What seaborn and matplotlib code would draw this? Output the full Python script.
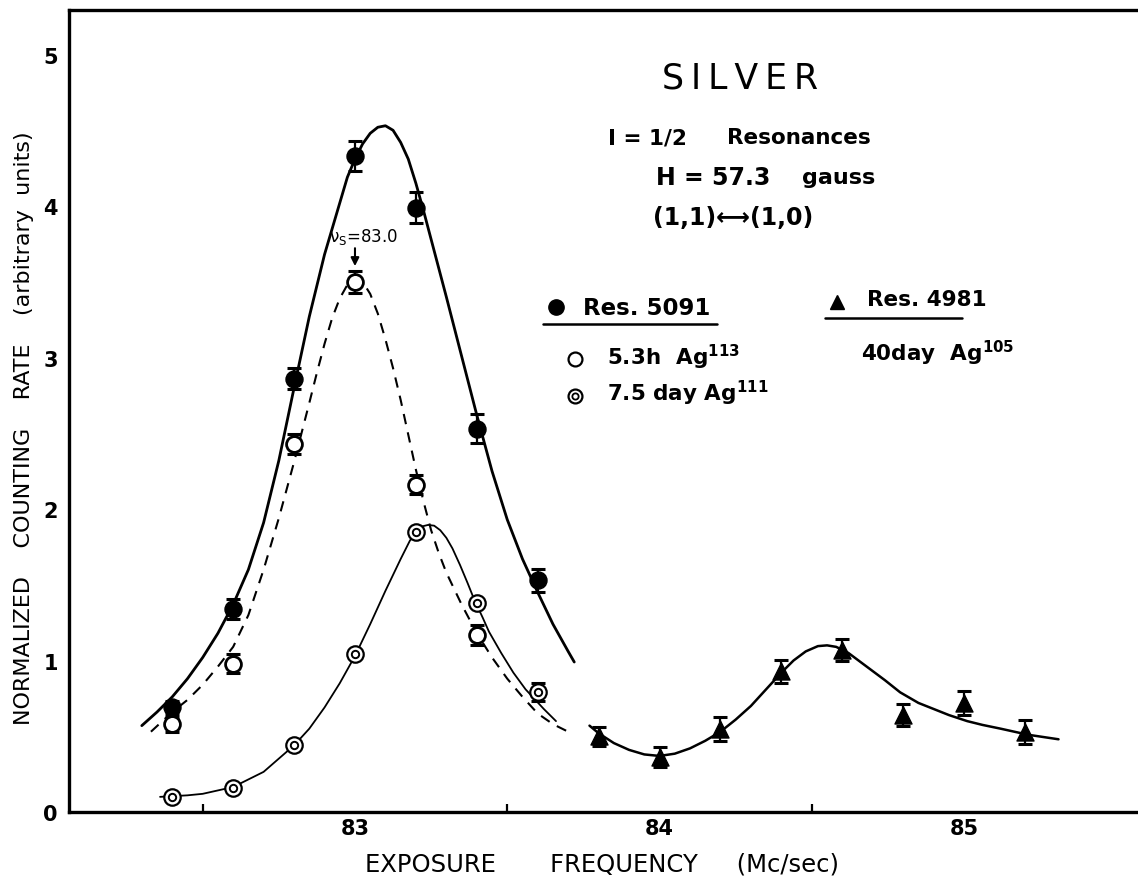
import numpy as np
import pandas as pd
import matplotlib
matplotlib.use("Agg")
import matplotlib.pyplot as plt
import seaborn as sns
from matplotlib.lines import Line2D

# ---------------- data ----------------
# Res. 5091 (filled circles)
freq_5091 = [82.4, 82.6, 82.8, 83.0, 83.2, 83.4, 83.6]
rate_5091 = [0.69, 1.34, 2.86, 4.33, 3.99, 2.53, 1.53]
err_5091 = [0.045, 0.066, 0.07, 0.096, 0.10, 0.095, 0.076]

# 5.3 h Ag113 (open circles)
freq_ag113 = [82.4, 82.6, 82.8, 83.0, 83.2, 83.4]
rate_ag113 = [0.58, 0.98, 2.43, 3.50, 2.16, 1.17]
err_ag113 = [0.05, 0.06, 0.066, 0.073, 0.063, 0.066]

# 7.5 day Ag111 (double circles)
freq_ag111 = [82.4, 82.6, 82.8, 83.0, 83.2, 83.4, 83.6]
rate_ag111 = [0.10, 0.16, 0.44, 1.04, 1.85, 1.38, 0.79]
err_ag111 = [0.0, 0.0, 0.0, 0.0, 0.0, 0.0, 0.06]

# Res. 4981, 40 day Ag105 (triangles)
freq_ag105 = [83.8, 84.0, 84.2, 84.4, 84.6, 84.8, 85.0, 85.2]
rate_ag105 = [0.50, 0.36, 0.55, 0.93, 1.07, 0.64, 0.72, 0.53]
err_ag105 = [0.063, 0.066, 0.08, 0.076, 0.073, 0.07, 0.08, 0.08]

# fitted curves
curve_5091_x = [82.30, 82.35, 82.40, 82.45, 82.50, 82.55, 82.60, 82.65, 82.70, 82.75,
                82.80, 82.85, 82.90, 82.95, 82.975, 83.00, 83.025, 83.05, 83.075, 83.10,
                83.125, 83.15, 83.175, 83.20, 83.225, 83.25, 83.30, 83.35, 83.40, 83.45,
                83.50, 83.55, 83.60, 83.65, 83.70, 83.72]
curve_5091_y = [0.57, 0.66, 0.76, 0.88, 1.02, 1.18, 1.37, 1.60, 1.91, 2.32,
                2.80, 3.27, 3.68, 4.02, 4.19, 4.31, 4.41, 4.48, 4.52, 4.53,
                4.50, 4.42, 4.31, 4.15, 3.97, 3.78, 3.40, 3.01, 2.62, 2.25,
                1.93, 1.67, 1.45, 1.24, 1.06, 0.99]

curve_ag113_x = [82.33, 82.40, 82.45, 82.50, 82.55, 82.60, 82.65, 82.70, 82.75, 82.80,
                 82.85, 82.875, 82.90, 82.925, 82.95, 82.975, 83.00, 83.025, 83.05, 83.075,
                 83.10, 83.125, 83.15, 83.175, 83.20, 83.225, 83.25, 83.275, 83.30, 83.35,
                 83.40, 83.45, 83.50, 83.55, 83.60, 83.65, 83.70]
curve_ag113_y = [0.53, 0.66, 0.74, 0.84, 0.96, 1.09, 1.30, 1.60, 1.94, 2.31,
                 2.70, 2.90, 3.09, 3.26, 3.39, 3.48, 3.52, 3.50, 3.42, 3.29,
                 3.12, 2.93, 2.72, 2.49, 2.26, 2.05, 1.86, 1.71, 1.58, 1.37,
                 1.18, 1.02, 0.88, 0.76, 0.65, 0.58, 0.53]

curve_ag111_x = [82.36, 82.45, 82.50, 82.60, 82.70, 82.80, 82.85, 82.90, 82.95, 83.00,
                 83.05, 83.10, 83.15, 83.18, 83.20, 83.22, 83.24, 83.26, 83.28, 83.30,
                 83.32, 83.345, 83.37, 83.39, 83.42, 83.44, 83.48, 83.52, 83.56, 83.62,
                 83.66]
curve_ag111_y = [0.10, 0.11, 0.12, 0.165, 0.265, 0.44, 0.55, 0.69, 0.85, 1.03,
                 1.24, 1.46, 1.67, 1.79, 1.85, 1.885, 1.895, 1.89, 1.86, 1.81,
                 1.74, 1.63, 1.51, 1.41, 1.28, 1.19, 1.05, 0.92, 0.81, 0.68,
                 0.60]

curve_ag105_x = [83.77, 83.80, 83.85, 83.90, 83.95, 84.00, 84.05, 84.10, 84.15, 84.20,
                 84.25, 84.30, 84.35, 84.40, 84.44, 84.48, 84.52, 84.55, 84.58, 84.62,
                 84.68, 84.74, 84.79, 84.85, 84.90, 84.95, 85.01, 85.06, 85.12, 85.21,
                 85.31]
curve_ag105_y = [0.57, 0.52, 0.455, 0.41, 0.38, 0.37, 0.385, 0.42, 0.47, 0.53,
                 0.61, 0.70, 0.81, 0.92, 1.00, 1.06, 1.095, 1.10, 1.09, 1.05,
                 0.96, 0.87, 0.79, 0.72, 0.68, 0.64, 0.60, 0.575, 0.55, 0.51,
                 0.48]

x_major = [83, 84, 85]
x_minor = [82.5, 83.5, 84.5]
y_major = [0, 1, 2, 3, 4, 5]

# ---------------- style ----------------
sns.set_theme(style="white")
plt.rcParams['font.family'] = ['DejaVu Sans']
plt.rcParams['mathtext.default'] = 'regular'
for key in ['text.color', 'axes.labelcolor', 'xtick.color', 'ytick.color',
            'axes.edgecolor']:
    plt.rcParams[key] = 'black'

fig = plt.figure(figsize=(11.38, 8.78), dpi=100)
ax = fig.add_axes([69 / 1138, 65 / 878, 1 - 69 / 1138, 802 / 878])

K = 'black'

def df(x, y):
    return pd.DataFrame({'x': x, 'y': y})

# curves
sns.lineplot(data=df(curve_5091_x, curve_5091_y), x='x', y='y', sort=False,
             color=K, lw=2.0, ax=ax, zorder=2)
sns.lineplot(data=df(curve_ag113_x, curve_ag113_y), x='x', y='y', sort=False,
             color=K, lw=1.5, ax=ax, zorder=2)
ax.lines[-1].set_dashes([5, 4])
sns.lineplot(data=df(curve_ag111_x, curve_ag111_y), x='x', y='y', sort=False,
             color=K, lw=1.3, ax=ax, zorder=2)
sns.lineplot(data=df(curve_ag105_x, curve_ag105_y), x='x', y='y', sort=False,
             color=K, lw=1.8, ax=ax, zorder=2)
for ln in ax.lines:
    ln.set_solid_joinstyle('round')
    ln.set_dash_joinstyle('round')

# error bars
eb = dict(fmt='none', ecolor=K, elinewidth=1.6, capsize=5, capthick=2.2, zorder=3)
ax.errorbar(freq_5091, rate_5091, yerr=err_5091, **eb)
ax.errorbar(freq_ag113, rate_ag113, yerr=err_ag113, **eb)
sel = [i for i, e in enumerate(err_ag111) if e > 0]
ax.errorbar([freq_ag111[i] for i in sel], [rate_ag111[i] for i in sel],
            yerr=[err_ag111[i] for i in sel], **eb)
ax.errorbar(freq_ag105, rate_ag105, yerr=err_ag105, **eb)

# markers
sns.scatterplot(x=freq_5091, y=rate_5091, marker='o', s=150, color=K,
                edgecolor=K, linewidth=1, ax=ax, zorder=4)
sns.scatterplot(x=freq_ag113, y=rate_ag113, marker='o', s=130, color='white',
                edgecolor=K, linewidth=2.0, ax=ax, zorder=4)
sns.scatterplot(x=freq_ag111, y=rate_ag111, marker='o', s=140, color='white',
                edgecolor=K, linewidth=1.6, ax=ax, zorder=4)
sns.scatterplot(x=freq_ag111, y=rate_ag111, marker='o', s=28, color='white',
                edgecolor=K, linewidth=1.4, ax=ax, zorder=5)
sns.scatterplot(x=freq_ag105, y=rate_ag105, marker='^', s=150, color=K,
                edgecolor=K, linewidth=1, ax=ax, zorder=4)

# axes
ax.set_xlim(82.061, 85.571)
ax.set_ylim(0, 5.294)
ax.set_xticks(x_major)
ax.set_xticklabels([str(v) for v in x_major])
ax.set_xticks(x_minor, minor=True)
ax.set_yticks(y_major)
ax.set_yticklabels([str(v) for v in y_major])
ax.tick_params(axis='both', which='major', direction='in', length=12, width=1.8,
               color=K, labelsize=15, pad=4, labelcolor=K)
ax.tick_params(axis='x', which='minor', direction='in', length=6, width=1.6,
               color=K, bottom=True)
ax.tick_params(axis='y', which='major', pad=8)
ax.tick_params(top=False, right=False, which='both')
for lab in ax.get_xticklabels() + ax.get_yticklabels():
    lab.set_fontweight('bold')
for s in ['left', 'bottom', 'top']:
    ax.spines[s].set_linewidth(2.4)
    ax.spines[s].set_color(K)
ax.spines['right'].set_visible(False)

ax.set_xlabel('EXPOSURE       FREQUENCY     (Mc/sec)', fontsize=17.5)
ax.xaxis.set_label_coords((602 - 69) / 1069, (813 - 853) / 802)
ax.set_ylabel('NORMALIZED    COUNTING    RATE    (arbitrary  units)', fontsize=16)
ax.yaxis.set_label_coords((34 - 69) / 1069, (813 - 428) / 802)

# header text
ax.text(84.264, 4.85, 'S\u2009I\u2009L\u2009V\u2009E\u2009R', fontsize=25,
        ha='center', va='center')
ax.text(83.83, 4.455, 'I = 1/2', fontsize=15.5, fontweight='bold',
        ha='left', va='center')
ax.text(84.222, 4.455, 'Resonances', fontsize=15.5, fontweight='bold',
        ha='left', va='center')
ax.text(83.99, 4.19, 'H = 57.3', fontsize=17, fontweight='bold',
        ha='left', va='center')
ax.text(84.468, 4.19, 'gauss', fontsize=16, fontweight='bold',
        ha='left', va='center')
ax.text(83.98, 3.93, '(1,1)\u27f7(1,0)', fontsize=17, fontweight='bold',
        ha='left', va='center')

# legend block
tr = ax.transData
ax.add_line(Line2D([83.66], [3.333], marker='o', ms=11, color=K, transform=tr))
ax.text(83.749, 3.333, 'Res. 5091', fontsize=16.5, fontweight='bold', va='center')
ax.add_line(Line2D([83.617, 84.189], [3.221, 3.221], lw=1.8, color=K, transform=tr))
ax.add_line(Line2D([83.722], [2.99], marker='o', ms=10, mfc='white', mec=K,
                   mew=1.6, transform=tr))
ax.text(83.828, 3.01, '5.3h  Ag$^{\\mathbf{113}}$', fontsize=15.5,
        fontweight='bold', va='center')
ax.add_line(Line2D([83.722], [2.746], marker='o', ms=10, mfc='white', mec=K,
                   mew=1.6, transform=tr))
ax.add_line(Line2D([83.722], [2.746], marker='o', ms=4.5, mfc='white', mec=K,
                   mew=1.3, transform=tr))
ax.text(83.828, 2.77, '7.5 day Ag$^{\\mathbf{111}}$', fontsize=15.5,
        fontweight='bold', va='center')

ax.add_line(Line2D([84.583], [3.366], marker='^', ms=10, color=K, transform=tr))
ax.text(84.68, 3.386, 'Res. 4981', fontsize=15.5, fontweight='bold', va='center')
ax.add_line(Line2D([84.544, 84.993], [3.26, 3.26], lw=1.8, color=K, transform=tr))
ax.text(84.662, 3.036, '40day  Ag$^{\\mathbf{105}}$', fontsize=15.5,
        fontweight='bold', va='center')

# nu_s annotation
ax.annotate('', xy=(83.0, 3.585), xytext=(83.0, 3.74),
            arrowprops=dict(arrowstyle='-|>', color=K, lw=1.5, mutation_scale=12))
ax.text(82.915, 3.80, '$\\nu_S$=83.0', fontsize=12, va='center', ha='left')

fig.savefig('out.png', dpi=100)
